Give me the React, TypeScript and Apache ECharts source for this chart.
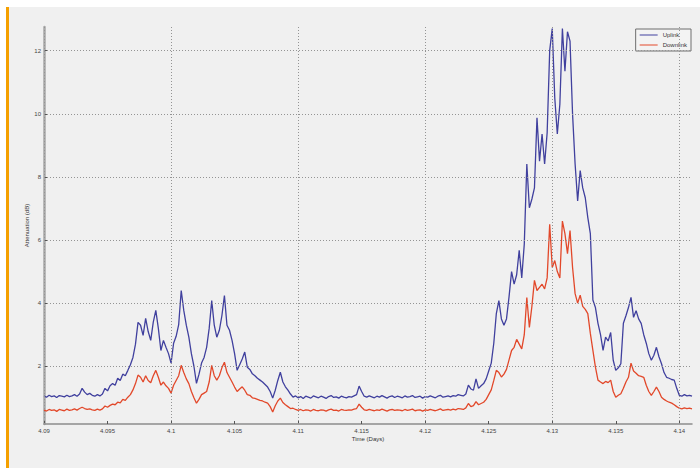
import React, { useEffect, useRef } from "react";
import * as echarts from "echarts";

// sampling grid of the recorded time series (days)
const START = 4.09;
const STEP = 0.0002;

const X_TICKS = [4.09, 4.095, 4.1, 4.105, 4.11, 4.115, 4.12, 4.125, 4.13, 4.135, 4.14];
const Y_TICKS = [2, 4, 6, 8, 10, 12];

const UPLINK = [
  1.05, 1.02, 1.08, 1.04, 1.06, 1.01, 1.07, 1.05, 1.03, 1.08,
  1.04, 1.06, 1.10, 1.05, 1.12, 1.30, 1.18, 1.10, 1.14, 1.08,
  1.05, 1.10, 1.06, 1.12, 1.30, 1.22, 1.38, 1.45, 1.40, 1.62,
  1.55, 1.75, 1.70, 1.87, 2.05, 2.28, 2.70, 3.39, 3.30, 2.98,
  3.52, 3.10, 2.82, 3.40, 3.77, 3.20, 2.50, 2.82, 2.60, 2.40,
  2.10, 2.73, 2.95, 3.32, 4.40, 3.77, 3.30, 2.92, 2.40, 2.00,
  1.46, 1.75, 2.10, 2.28, 2.60, 3.20, 4.08, 3.30, 2.92, 3.14,
  3.60, 4.24, 3.30, 3.14, 2.82, 2.40, 1.87, 2.05, 2.23, 2.45,
  1.97, 1.90, 1.76, 1.70, 1.62, 1.56, 1.50, 1.42, 1.34, 1.20,
  0.99, 1.24, 1.55, 1.81, 1.50, 1.35, 1.24, 1.12, 1.02, 1.06,
  1.00, 1.04, 0.98, 1.05, 1.02, 0.99, 1.06, 1.03, 1.00, 1.05,
  1.02, 0.98, 1.04, 1.07, 1.01, 1.03, 0.99, 1.05, 1.02, 1.00,
  1.04, 1.02, 1.06, 1.10, 1.37, 1.20, 1.05, 1.02, 1.06, 1.03,
  1.00, 1.05, 1.02, 1.07, 1.03, 0.99, 1.04, 1.06, 1.01, 1.05,
  1.03, 1.00, 1.06, 1.02, 1.04, 1.07, 1.01, 1.03, 1.05, 0.99,
  1.04, 1.02, 1.06, 1.03, 1.00, 1.05, 1.08, 1.02, 1.04, 1.06,
  1.03, 1.07, 1.05, 1.10, 1.08, 1.06, 1.12, 1.40, 1.28, 1.24,
  1.60, 1.30, 1.38, 1.45, 1.60, 1.85, 2.10, 2.73, 3.67, 4.08,
  3.50, 3.30, 3.50, 4.20, 5.00, 4.60, 4.90, 5.67, 4.80, 5.87,
  8.41, 7.02, 7.30, 7.65, 9.87, 8.50, 9.36, 8.41, 9.40, 12.00,
  12.70, 10.50, 9.36, 10.30, 12.70, 11.35, 12.60, 12.30, 9.99, 8.41,
  7.24, 8.20, 7.65, 7.34, 6.71, 6.20, 4.10, 3.86, 3.36, 3.00,
  2.50, 2.92, 2.80, 3.07, 2.19, 1.87, 1.95, 2.08, 3.36, 3.60,
  3.86, 4.18, 3.55, 3.76, 3.50, 3.36, 3.00, 2.73, 2.40, 2.19,
  2.35, 2.60, 2.30, 2.08, 1.80, 1.65, 1.62, 1.58, 1.56, 1.30,
  1.08, 1.05, 1.10, 1.06, 1.08, 1.05,
];

const DOWNLINK = [
  0.61, 0.58, 0.63, 0.60, 0.62, 0.57, 0.63, 0.61, 0.59, 0.64,
  0.60, 0.62, 0.65, 0.61, 0.66, 0.70, 0.66, 0.63, 0.65, 0.62,
  0.60, 0.64, 0.61, 0.65, 0.74, 0.70, 0.76, 0.80, 0.78, 0.86,
  0.84, 0.95, 0.92, 1.02, 1.10, 1.25, 1.45, 1.72, 1.65, 1.50,
  1.70, 1.55, 1.48, 1.70, 1.87, 1.65, 1.40, 1.50, 1.38, 1.30,
  1.15, 1.40, 1.55, 1.70, 2.03, 1.80, 1.60, 1.45, 1.20, 1.00,
  0.83, 0.95, 1.10, 1.15, 1.20, 1.50, 2.03, 1.70, 1.56, 1.70,
  1.95, 2.13, 1.80, 1.65, 1.50, 1.34, 1.20, 1.28, 1.35, 1.24,
  1.10, 1.08, 1.00, 0.98, 0.95, 0.92, 0.90, 0.86, 0.83, 0.72,
  0.55, 0.75, 0.90, 0.99, 0.85, 0.78, 0.72, 0.66, 0.67, 0.63,
  0.60, 0.63, 0.59, 0.62, 0.61, 0.58, 0.63, 0.60, 0.59, 0.62,
  0.61, 0.58, 0.62, 0.64, 0.60, 0.61, 0.58, 0.63, 0.61, 0.60,
  0.62, 0.61, 0.64, 0.66, 0.80, 0.70, 0.62, 0.60, 0.63, 0.61,
  0.59, 0.62, 0.60, 0.64, 0.61, 0.58, 0.62, 0.63, 0.60, 0.62,
  0.61, 0.59, 0.63, 0.60, 0.62, 0.64, 0.59, 0.61, 0.62, 0.58,
  0.62, 0.60, 0.63, 0.61, 0.59, 0.62, 0.65, 0.60, 0.62, 0.63,
  0.61, 0.64, 0.62, 0.66, 0.65, 0.63, 0.68, 0.82, 0.72, 0.75,
  0.88, 0.78, 0.82, 0.86, 0.95, 1.10, 1.25, 1.55, 1.87, 1.80,
  1.66, 1.75, 1.90, 2.20, 2.50, 2.60, 2.85, 2.70, 2.55, 3.00,
  4.18, 3.23, 3.90, 4.72, 4.40, 4.50, 4.60, 4.45, 4.80, 6.50,
  5.13, 5.35, 5.00, 4.80, 6.60, 6.20, 5.57, 6.30, 5.13, 4.30,
  4.00, 4.25, 3.90, 3.80, 3.67, 3.04, 2.50, 1.97, 1.56, 1.50,
  1.45, 1.52, 1.48, 1.56, 1.20, 1.02, 1.08, 1.13, 1.30, 1.50,
  1.65, 2.10, 1.85, 1.78, 1.70, 1.68, 1.65, 1.40, 1.20, 1.08,
  1.20, 1.34, 1.20, 1.02, 0.95, 0.90, 0.86, 0.83, 0.78, 0.72,
  0.67, 0.65, 0.68, 0.66, 0.67, 0.65,
];

const FONT = "Liberation Sans, Arial, sans-serif";

export default function App() {
  const ref = useRef<HTMLDivElement>(null);
  useEffect(() => {
    document.body.style.margin = "0";
    const chart = echarts.init(ref.current!, null, { renderer: "svg" });
    const toPairs = (vals: number[]) =>
      vals.map((v, i) => [+(START + i * STEP).toFixed(4), v]);
    const gridLine = { color: "#949494", width: 1, type: [1, 2] as any };
    chart.setOption({
      animation: false,
      backgroundColor: "#f0f0f0",
      textStyle: { fontFamily: FONT },
      graphic: [
        { type: "rect", shape: { x: 0, y: 0, width: 700, height: 7 }, style: { fill: "#ffffff" }, silent: true },
        { type: "rect", shape: { x: 0, y: 0, width: 6, height: 468 }, style: { fill: "#ffffff" }, silent: true },
        { type: "rect", shape: { x: 6, y: 7, width: 3, height: 461 }, style: { fill: "#f5a000" }, silent: true },
      ],
      grid: { left: 44, right: 8, top: 27, bottom: 44, containLabel: false },
      legend: {
        data: ["Uplink", "Downlink"],
        orient: "vertical",
        right: 9,
        top: 29,
        icon: "rect",
        itemWidth: 18,
        itemHeight: 1,
        itemGap: 4,
        padding: [3, 4, 3, 4],
        borderColor: "#6e6e6e",
        borderWidth: 1,
        borderRadius: 0,
        backgroundColor: "#f3f3f3",
        textStyle: { fontSize: 6, color: "#333", fontFamily: FONT },
      },
      xAxis: {
        type: "value",
        min: 4.09,
        max: 4.141,
        name: "Time (Days)",
        nameLocation: "middle",
        nameGap: 12,
        nameMoveOverlap: false,
        nameTextStyle: { fontSize: 6, color: "#333" },
        axisLine: { show: true, onZero: false, lineStyle: { color: "#8c8c8c", width: 1.5 } },
        axisTick: { show: true, inside: true, length: 3, customValues: X_TICKS, lineStyle: { color: "#555" } },
        axisLabel: {
          customValues: X_TICKS,
          fontSize: 6,
          color: "#444",
          margin: 4,
          formatter: (v: number) => String(+v.toFixed(3)),
        },
        splitLine: { show: false },
      },
      yAxis: {
        type: "value",
        min: 0.17,
        max: 12.75,
        name: "Attenuation (dB)",
        nameLocation: "middle",
        nameGap: 14,
        nameRotate: 90,
        nameMoveOverlap: false,
        nameTextStyle: { fontSize: 6, color: "#333" },
        axisLine: { show: true, onZero: false, lineStyle: { color: "#a8a8a8", width: 2.5 } },
        axisTick: { show: true, inside: true, length: 3, customValues: Y_TICKS, lineStyle: { color: "#555" } },
        axisLabel: { customValues: Y_TICKS, fontSize: 6, color: "#444", margin: 3 },
        splitLine: { show: false },
      },
      series: [
        {
          name: "grid",
          type: "line",
          data: [],
          z: 1,
          silent: true,
          markLine: {
            silent: true,
            symbol: "none",
            label: { show: false },
            lineStyle: gridLine,
            data: [
              ...X_TICKS.slice(1).map((x) => ({ xAxis: x })),
              ...Y_TICKS.map((y) => ({ yAxis: y })),
            ],
          },
        },
        {
          name: "Uplink",
          type: "line",
          data: toPairs(UPLINK),
          showSymbol: false,
          symbol: "none",
          z: 3,
          lineStyle: { color: "#40409e", width: 1.3 },
          itemStyle: { color: "#40409e" },
        },
        {
          name: "Downlink",
          type: "line",
          data: toPairs(DOWNLINK),
          showSymbol: false,
          symbol: "none",
          z: 2,
          lineStyle: { color: "#e2482a", width: 1.3 },
          itemStyle: { color: "#e2482a" },
        },
      ],
    });
    return () => chart.dispose();
  }, []);
  return <div ref={ref} style={{ width: 700, height: 468 }} />;
}
